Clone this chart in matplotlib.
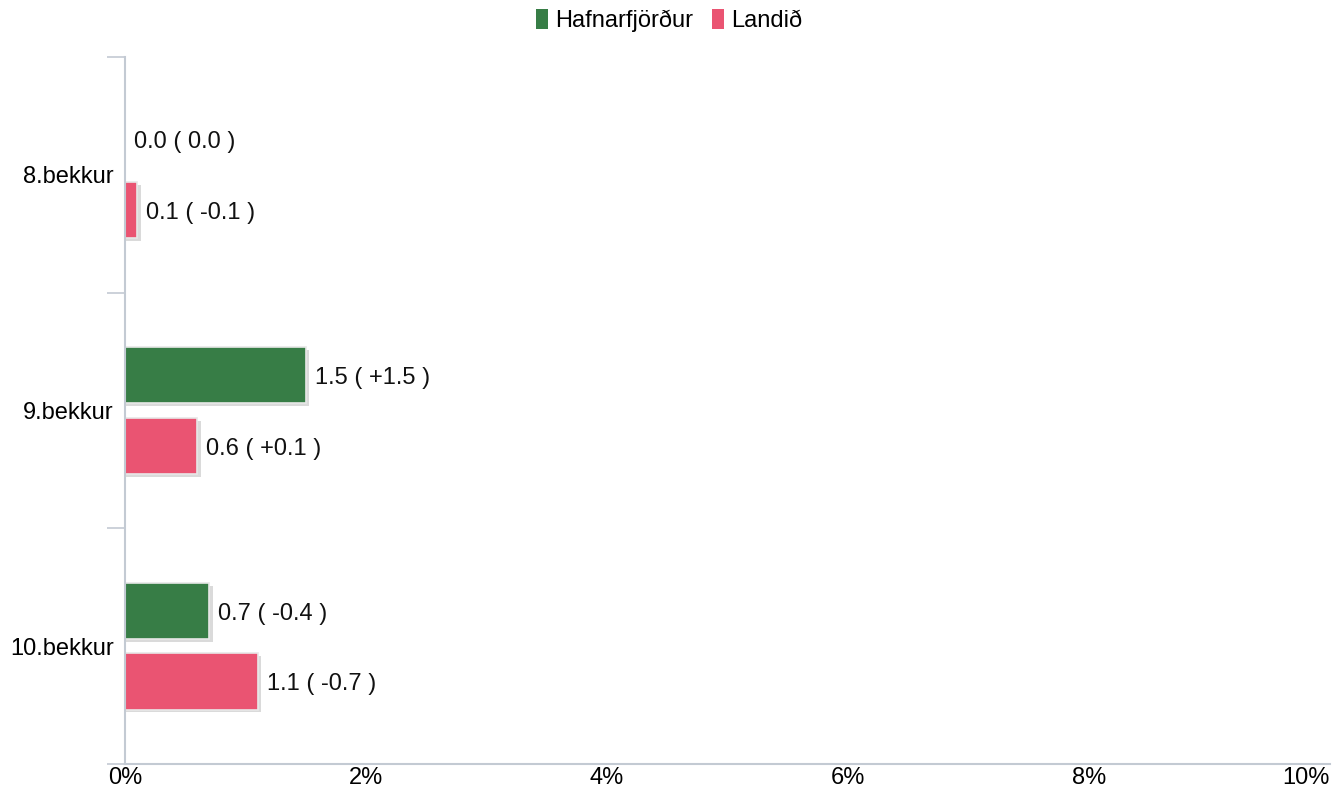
import matplotlib.pyplot as plt
import numpy as np
from matplotlib.patches import Rectangle

categories = ["8.bekkur", "9.bekkur", "10.bekkur"]
series_names = ["Hafnarfjörður", "Landið"]
hafnarfjordur = [0.0, 1.5, 0.7]
landid = [0.1, 0.6, 1.1]
hafnarfjordur_diff = ["0.0", "+1.5", "-0.4"]
landid_diff = ["-0.1", "+0.1", "-0.7"]
x_ticks = [0, 2, 4, 6, 8, 10]

COLORS = ["#377d46", "#ea5472"]
AXIS_COLOR = "#c3cad3"
FS = 17

plt.rcParams["font.family"] = ["Liberation Sans", "DejaVu Sans"]

fig = plt.figure(figsize=(13.38, 7.89), dpi=100)
ax = fig.add_axes([125 / 1338, 1 - 764 / 789, 1205 / 1338, 707 / 789])

y = np.arange(len(categories))
bar_h = 0.238
offset = 0.150

series = [
    (hafnarfjordur, hafnarfjordur_diff, -offset, COLORS[0]),
    (landid, landid_diff, offset, COLORS[1]),
]

for values, diffs, off, color in series:
    for yi, v, d in zip(y, values, diffs):
        if v > 0:
            # soft shadow behind the bar
            ax.add_patch(Rectangle((0, yi + off - bar_h / 2 + 0.012), v + 0.03, bar_h,
                                   facecolor="#dadada", edgecolor="none", zorder=1))
            ax.barh(yi + off, v, height=bar_h, color=color, edgecolor="#e8e8e8",
                    linewidth=1.2, zorder=2)
        ax.text(v + 0.075, yi + off + 0.012, f"{v:.1f} ( {d} )", va="center", ha="left",
                fontsize=FS, color="#111111", zorder=3)

ax.set_xlim(0, 10)
ax.set_ylim(2.5, -0.5)
ax.set_xticks(x_ticks)
ax.set_xticklabels([f"{t}%" for t in x_ticks])
ax.get_xticklabels()[-1].set_horizontalalignment("right")
ax.set_yticks(y)
ax.set_yticklabels(categories)
ax.set_yticks([-0.5, 0.5, 1.5, 2.5], minor=True)

ax.tick_params(axis="y", which="major", length=0, pad=8, labelsize=FS)
ax.tick_params(axis="y", which="minor", length=13, color=AXIS_COLOR, width=1.2)
ax.tick_params(axis="x", which="major", length=0, pad=2, labelsize=FS)

for side in ["top", "right"]:
    ax.spines[side].set_visible(False)
ax.spines["left"].set_color(AXIS_COLOR)
ax.spines["bottom"].set_color(AXIS_COLOR)
ax.spines["left"].set_linewidth(1.5)
ax.spines["bottom"].set_linewidth(1.5)

handles = [Rectangle((0, 0), 1, 1, facecolor=c, edgecolor="none") for c in COLORS]
fig.legend(handles, series_names, loc="upper center", bbox_to_anchor=(0.5, 1.015),
           ncol=2, frameon=False, fontsize=FS, handlelength=0.5, handleheight=0.9,
           handletextpad=0.3, columnspacing=0.8)

fig.savefig("out.png", dpi=100)
